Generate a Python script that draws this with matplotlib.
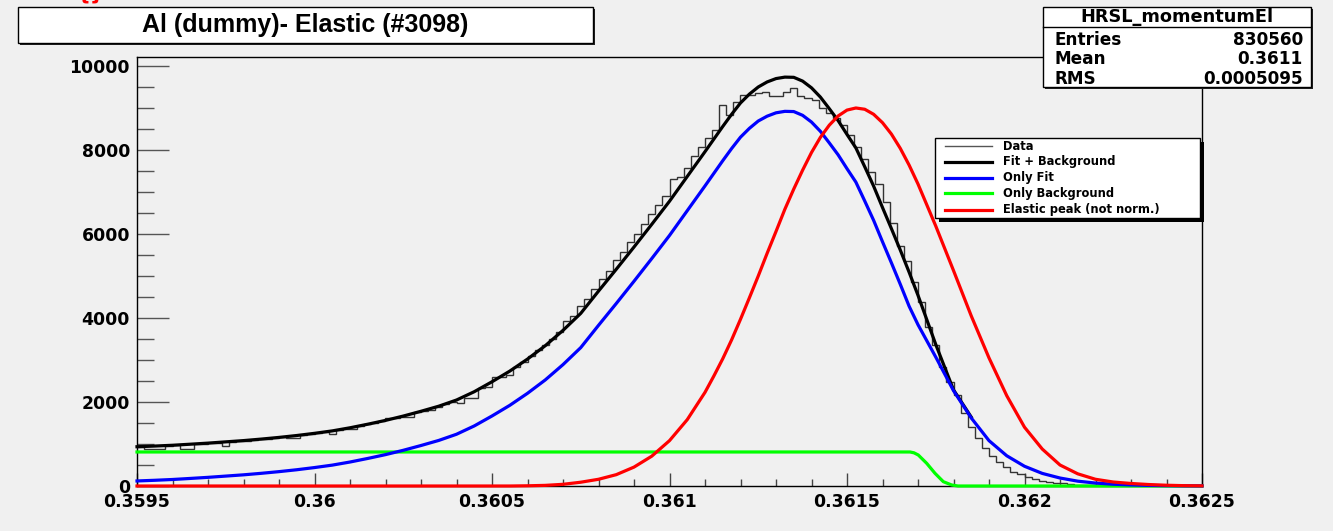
import numpy as np
import matplotlib.pyplot as plt
from matplotlib.patches import Rectangle
from matplotlib.lines import Line2D
from matplotlib.ticker import MultipleLocator

plt.rcParams['font.family'] = 'DejaVu Sans'
plt.rcParams['font.weight'] = 'bold'

################# Data ################
# histogram: 150 bins of 2e-5 between 0.3595 and 0.3625
bin_lo = 0.3595
bin_hi = 0.3625
data_counts = [925, 880, 878, 882, 958, 965, 885, 890, 1000, 1010,
               1018, 1030, 962, 1040, 1070, 1082, 1095, 1108, 1125, 1142,
               1158, 1135, 1140, 1215, 1235, 1258, 1282, 1238, 1330, 1362,
               1350, 1430, 1465, 1500, 1540, 1612, 1615, 1632, 1636, 1750,
               1795, 1812, 1890, 1950, 2010, 1968, 2090, 2095, 2330, 2350,
               2600, 2605, 2645, 2830, 2960, 3100, 3230, 3357, 3492, 3675,
               3930, 4040, 4280, 4450, 4680, 4920, 5130, 5380, 5560, 5800,
               6000, 6230, 6480, 6700, 6900, 7310, 7350, 7580, 7850, 8060,
               8290, 8470, 9071, 8833, 9150, 9310, 9300, 9350, 9370, 9290,
               9290, 9370, 9480, 9290, 9240, 9190, 9000, 8880, 8760, 8600,
               8360, 8080, 7780, 7480, 7190, 6770, 6270, 5710, 5360, 4865,
               4390, 3790, 3357, 2840, 2483, 2167, 1730, 1413, 1150, 897,
               710, 579, 460, 345, 286, 222, 167, 122, 100, 78,
               60, 45, 34, 25, 18, 13, 9, 6, 4, 3,
               2, 1, 1, 0, 0, 0, 0, 0, 0, 0]

# curves read every 5e-5 (grid points from 0.3595)
fit_bkg = [935, 951, 970, 995, 1021, 1051, 1081, 1117, 1157, 1202,
           1254, 1312, 1386, 1471, 1562, 1665, 1779, 1900, 2047, 2245,
           2482, 2735, 3022, 3340, 3705, 4110, 4640, 5160, 5690, 6230,
           6780, 7370, 7960, 8560, 9120, 9500, 9700, 9730, 9480, 8985,
           8370, 7600, 6630, 5620, 4540, 3370, 2290, 1640]
only_fit = [120, 136, 155, 180, 206, 236, 266, 302, 342, 387,
            439, 497, 571, 656, 747, 850, 964, 1085, 1232, 1430,
            1667, 1920, 2207, 2525, 2890, 3295, 3825, 4345, 4875, 5415,
            5965, 6555, 7145, 7745, 8305, 8690, 8885, 8915, 8665, 8170,
            7555, 6785, 5815, 4805, 3840, 3070, 2270, 1620, 1080, 720,
            470, 300, 190, 115, 70, 42, 25, 14, 8, 4, 2]
elastic = [0, 0, 0, 0, 0, 0, 0, 0, 0, 0,
           0, 0, 0, 0, 0, 0, 0, 0, 0, 0,
           0, 0, 5, 15, 40, 90, 160, 270, 450, 710,
           1080, 1580, 2230, 3030, 3970, 5000, 6060, 7070, 7940, 8590,
           8950, 8970, 8650, 8040, 7190, 6190, 5130, 4050, 3050, 2150,
           1400, 880, 500, 290, 160, 95, 60, 35, 18, 8, 3]

# extra readings between grid points around the peaks
peak_x = [0.361125, 0.361175, 0.361225, 0.361275, 0.361325, 0.361375,
          0.361425, 0.361475, 0.361525, 0.361575, 0.361625, 0.361675]
fit_bkg_peak = [8260, 8850, 9330, 9620, 9735, 9640, 9260, 8700, 8050, 7140, 6130, 5090]
only_fit_peak = [7445, 8035, 8515, 8805, 8920, 8825, 8445, 7885, 7235, 6325, 5315, 4280]
elastic_peak = [2620, 3480, 4480, 5540, 6590, 7520, 8300, 8810, 9000, 8850, 8380, 7640]

bkg_x = [0.3595, 0.3616775, 0.3616887, 0.3617008, 0.3617245, 0.3617479,
         0.3617713, 0.3617949, 0.3618127, 0.3625]
bkg_y = [810, 810, 790, 738, 540, 302, 103, 24, 0, 0]

xticks = [0.3595, 0.36, 0.3605, 0.361, 0.3615, 0.362, 0.3625]
xtick_labels = ['0.3595', '0.36', '0.3605', '0.361', '0.3615', '0.362', '0.3625']
yticks = [0, 2000, 4000, 6000, 8000, 10000]
legend_labels = ['Data', 'Fit + Background', 'Only Fit', 'Only Background', 'Elastic peak (not norm.)']
stats_rows = [('Entries', '830560'), ('Mean', '0.3611'), ('RMS', '0.0005095')]
#######################################################

W, H = 1333, 531
BG = '#f0f0f0'

def fx(px):
    return px / W

def fy(py):
    return 1 - py / H

def merged(xa, ya, xb, yb):
    # put the extra peak readings in order with the grid readings
    x = np.concatenate([xa, xb])
    y = np.concatenate([ya, yb])
    keep = x <= xa[-1] + 1e-9
    order = np.argsort(x[keep])
    return x[keep][order], y[keep][order]

fig = plt.figure(figsize=(W / 100, H / 100), dpi=100, facecolor=BG)
ax = fig.add_axes([fx(137), fy(486), fx(1202) - fx(137), fy(57) - fy(486)])
ax.set_facecolor(BG)

edges = np.linspace(bin_lo, bin_hi, len(data_counts) + 1)
grid = np.linspace(bin_lo, bin_hi, len(only_fit))

bx, by = merged(grid[:len(fit_bkg)], fit_bkg, peak_x, fit_bkg_peak)
fx_, fy_ = merged(grid, only_fit, peak_x, only_fit_peak)
ex, ey = merged(grid, elastic, peak_x, elastic_peak)

ax.stairs(data_counts, edges, baseline=None, color='#333333', lw=1.0, zorder=2)
ax.plot(bx, by, color='black', lw=2.3, zorder=3, clip_on=False)
ax.plot(bkg_x, bkg_y, color='#00ff00', lw=2.3, zorder=4, clip_on=False)
ax.plot(fx_, fy_, color='#0000ff', lw=2.3, zorder=5, clip_on=False)
ax.plot(ex, ey, color='#ff0000', lw=2.3, zorder=6, clip_on=False)

ax.set_xlim(bin_lo, bin_hi)
ax.set_ylim(0, 10214)
ax.set_xticks(xticks)
ax.set_xticklabels(xtick_labels)
ax.set_yticks(yticks)
ax.set_yticklabels([str(v) for v in yticks])
ax.xaxis.set_minor_locator(MultipleLocator(0.0001))
ax.yaxis.set_minor_locator(MultipleLocator(500))
ax.tick_params(axis='y', which='major', direction='in', length=23, width=1,
               color='#555555', labelsize=12.4, pad=5)
ax.tick_params(axis='y', which='minor', direction='in', length=12, width=1, color='#555555')
ax.tick_params(axis='x', which='major', direction='in', length=9.5, width=1,
               color='#444444', labelsize=12.4, pad=5)
ax.tick_params(axis='x', which='minor', direction='in', length=5, width=1, color='#444444')
for s in ax.spines.values():
    s.set_color('black')
    s.set_linewidth(1)

def px_rect(x0, y0, x1, y1, **kw):
    return Rectangle((fx(x0), fy(y1)), (x1 - x0) / W, (y1 - y0) / H,
                     transform=fig.transFigure, **kw)

def shadow_box(x0, y0, x1, y1, off, shade):
    fig.add_artist(px_rect(x0 + off, y0 + off, x1 + off, y1 + off,
                           facecolor=shade, edgecolor='none', zorder=5))
    fig.add_artist(px_rect(x0, y0, x1, y1, facecolor='white', edgecolor='black',
                           lw=1, zorder=6))

# title box
shadow_box(18, 7, 593, 43, 2, '#222222')
fig.text(fx(305), fy(25), 'Al (dummy)- Elastic (#3098)', ha='center', va='center',
         fontsize=18, family='Liberation Sans', weight='bold', zorder=7)
fig.text(fx(90), fy(-6), '{}', ha='center', va='center', color='red', fontsize=14, zorder=7)

# stats box
shadow_box(1043, 7, 1311, 87, 2, '#222222')
fig.add_artist(Line2D([fx(1043), fx(1311)], [fy(27), fy(27)], color='black', lw=1,
                      transform=fig.transFigure, zorder=7))
fig.text(fx(1177), fy(17.5), 'HRSL_momentumEl', ha='center', va='center', fontsize=12.8, zorder=7)
for (name, val), yy in zip(stats_rows, [40, 59.5, 79]):
    fig.text(fx(1055), fy(yy), name, ha='left', va='center', fontsize=12.2, zorder=7)
    fig.text(fx(1303), fy(yy), val, ha='right', va='center', fontsize=12.2, zorder=7)

# legend
shadow_box(935, 138, 1200, 218, 4, 'black')
leg_styles = [('#555555', 1.0), ('black', 2.3), ('#0000ff', 2.3), ('#00ff00', 2.3), ('#ff0000', 2.3)]
for (col, lw), lab, yy in zip(leg_styles, legend_labels, [146, 161.5, 177.5, 193.5, 209.5]):
    fig.add_artist(Line2D([fx(945), fx(992)], [fy(yy), fy(yy)], color=col, lw=lw,
                          transform=fig.transFigure, zorder=7))
    fig.text(fx(1003), fy(yy), lab, ha='left', va='center', fontsize=8.3, zorder=7)

fig.savefig('out.png', dpi=100, facecolor=BG)
